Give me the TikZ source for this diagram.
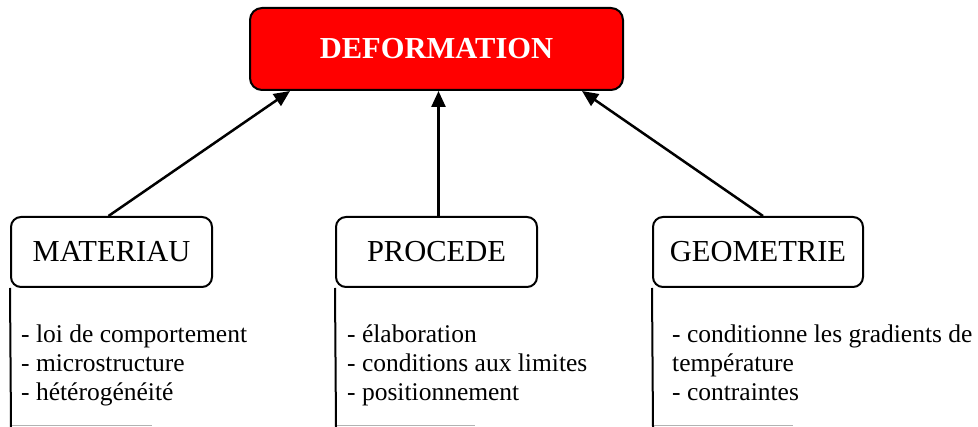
\documentclass[tikz,border=0pt]{standalone}
\usepackage{fontspec}
\setmainfont{Liberation Serif}
\usetikzlibrary{arrows.meta}
\begin{document}
\begin{tikzpicture}[x=1pt,y=-1pt,
  topbox/.style={draw=black, line width=2pt, fill=red, rounded corners=12pt,
    minimum width=373pt, minimum height=82pt, inner sep=0pt,
    text=white, font=\fontsize{30.5}{36}\selectfont\bfseries},
  catbox/.style={draw=black, line width=2pt, rounded corners=10pt,
    minimum height=70pt, inner sep=0pt, font=\fontsize{30.5}{36}\selectfont},
  listline/.style={anchor=base west, inner sep=0pt, font=\fontsize{25.5}{29}\selectfont},
  arr/.style={line width=2.5pt, -{Triangle[length=16pt,width=14pt]}},
  bar/.style={line width=2pt, black},
  rule/.style={line width=1pt, gray!60}
]
\useasboundingbox (0,0) rectangle (978,427);

\node[topbox] (def) at (436.5,49) {DEFORMATION};

\node[catbox, minimum width=201pt] (mat) at (111.5,252) {MATERIAU};
\node[catbox, minimum width=201pt] (proc) at (436.5,252) {PROCEDE};
\node[catbox, minimum width=210pt] (geo) at (758,252) {GEOMETRIE};

\draw[arr] ([xshift=-3pt]mat.north) -- ([xshift=-146.5pt]def.south);
\draw[arr] ([xshift=2pt]proc.north) -- ([xshift=2pt]def.south);
\draw[arr] ([xshift=5pt]geo.north) -- ([xshift=145.5pt]def.south);

% brackets
\coordinate (mb) at (11,427);
\coordinate (pb) at (336,427);
\coordinate (gb) at (653,427);
\coordinate (ms) at (11,426);
\coordinate (ps) at (336,426);
\coordinate (gs) at (653,426);
\coordinate (me) at (152,426);
\coordinate (pe) at (475,426);
\coordinate (ge) at (793,426);
\draw[rule] (ms) -- (me);
\draw[rule] (ps) -- (pe);
\draw[rule] (gs) -- (ge);
\draw[bar] (mat.south west) -- (mb);
\draw[bar] (proc.south west) -- (pb);
\draw[bar] (geo.south west) -- (gb);

% lists
\node[listline] (m1) at (21,343) {- loi de comportement};
\node[listline] (m2) at (21,372) {- microstructure};
\node[listline] (m3) at (21,401) {- hétérogénéité};

\node[listline] (p1) at (347,343) {- élaboration};
\node[listline] (p2) at (347,372) {- conditions aux limites};
\node[listline] (p3) at (347,401) {- positionnement};

\node[listline] (g1) at (672,343) {- conditionne les gradients de};
\node[listline] (g2) at (672,372) {température};
\node[listline] (g3) at (672,401) {- contraintes};
\end{tikzpicture}
\end{document}
